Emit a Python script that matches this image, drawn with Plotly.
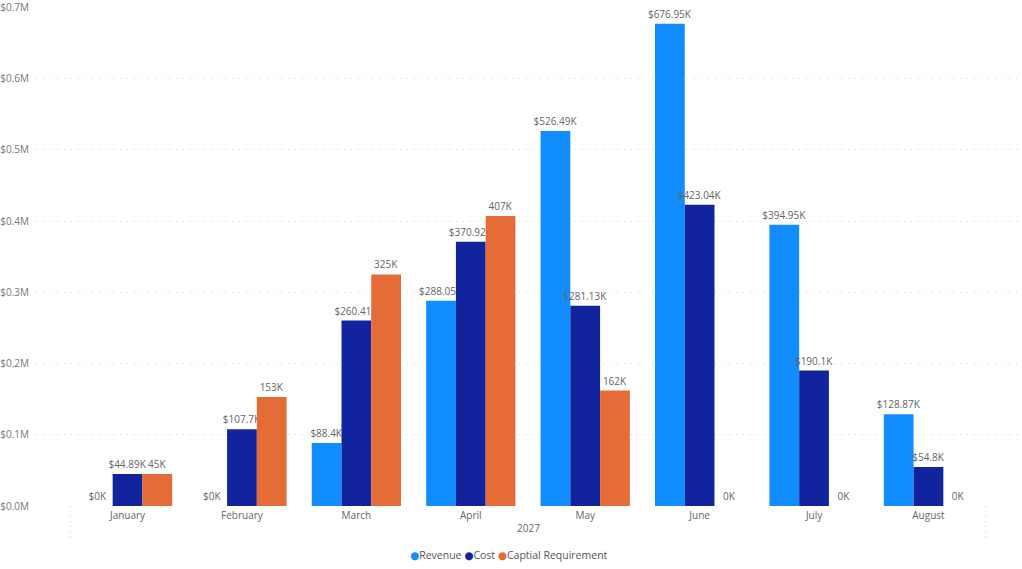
import plotly.graph_objects as go

# values, in thousands of dollars
months = ["January", "February", "March", "April", "May", "June", "July", "August"]
revenue = [0, 0, 88.4, 288.05, 526.49, 676.95, 394.95, 128.87]
cost = [44.89, 107.7, 260.41, 370.92, 281.13, 423.04, 190.1, 54.8]
capital = [45, 153, 325, 407, 162, 0, 0, 0]
y_ticks = [0, 100, 200, 300, 400, 500, 600, 700]  # thousands
year_label = "2027"

FONT = "Segoe UI, Open Sans, DejaVu Sans, sans-serif"
LABEL_COLOR = "#666666"


def fmt_k(v, dollar=True):
    s = f"{v:.2f}".rstrip("0").rstrip(".")
    return ("$" if dollar else "") + s + "K"


series = [
    ("Revenue", revenue, "#118DFF", True),
    ("Cost", cost, "#12239E", True),
    ("Captial Requirement", capital, "#E66C37", False),
]

fig = go.Figure()
for name, vals, color, dollar in series:
    fig.add_trace(go.Bar(
        x=months,
        y=[v * 1000 for v in vals],
        name=name,
        marker=dict(color=color, line=dict(width=0)),
        text=[fmt_k(v, dollar) for v in vals],
        textposition="outside",
        textfont=dict(size=10, color=LABEL_COLOR, family=FONT),
        cliponaxis=False,
        constraintext="none",
        showlegend=False,
        hoverinfo="skip",
    ))

# dotted category boundaries below the axis
for xv in (-0.5, len(months) - 0.5):
    fig.add_shape(type="line", xref="x", yref="paper", x0=xv, x1=xv, y0=0, y1=-0.065,
                  line=dict(color="#d0d0d0", width=1, dash="1px,4px"))

fig.add_annotation(x=(len(months) - 1) / 2, xref="x", y=-0.045, yref="paper",
                   yanchor="middle", text=year_label, showarrow=False,
                   font=dict(size=10, color=LABEL_COLOR, family=FONT))

# compact legend with round markers, like the original
legend_text = " ".join(
    f"<span style='color:{color}'>●</span>{name}" for name, _, color, _ in series
)
fig.add_annotation(x=0.481, xref="paper", y=-0.098, yref="paper", yanchor="middle",
                   text=legend_text, showarrow=False,
                   font=dict(size=10.5, color="#555555", family=FONT))

fig.update_layout(
    width=1022, height=569,
    margin=dict(l=36, r=2, t=7, b=63, autoexpand=False),
    paper_bgcolor="white", plot_bgcolor="white",
    barmode="group", bargap=0.22, bargroupgap=0,
    font=dict(family=FONT, color=LABEL_COLOR),
    showlegend=False,
    xaxis=dict(range=[-0.8, len(months) - 0.2], showgrid=False, zeroline=False,
               showline=False, ticks="", ticklabelstandoff=2,
               tickfont=dict(size=10, color=LABEL_COLOR)),
    yaxis=dict(range=[0, 700500], tickvals=[t * 1000 for t in y_ticks],
               ticktext=[f"${t / 1000:.1f}M" for t in y_ticks],
               showgrid=True, gridcolor="#d4d4d4", griddash="1px,6px", gridwidth=1,
               zeroline=False, showline=False, ticks="", ticklabelstandoff=6,
               ticklabeloverflow="allow",
               tickfont=dict(size=10, color="#777777")),
)

# drop the browser's default 8px body margin so the figure sits at the page corner
fig.write_html("out.html", config={"displayModeBar": False},
               post_script="document.body.style.margin='0';")
